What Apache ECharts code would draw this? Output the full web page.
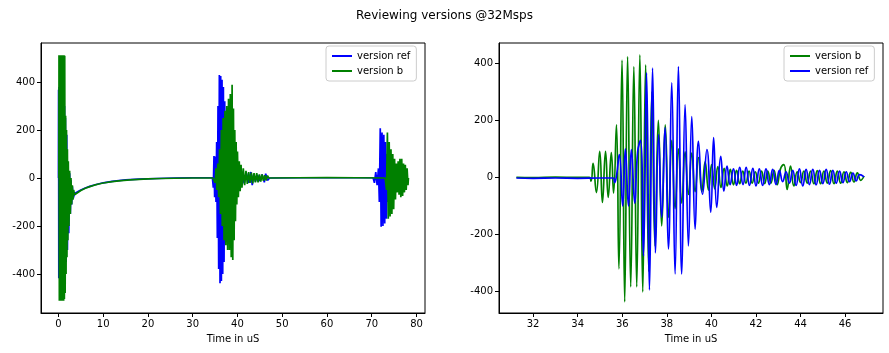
<!DOCTYPE html>
<html>
<head>
<meta charset="utf-8">
<script src="https://cdn.jsdelivr.net/npm/echarts@6/dist/echarts.min.js"></script>
<style>
  html, body { margin: 0; padding: 0; background: #fff; }
  #chart { width: 889px; height: 353px; }
</style>
</head>
<body>
<div id="chart"></div>
<script>
// full capture, time in uS -> amplitude (envelope peaks)
const refFull = [
  [0, 0], [0.03, 368], [0.08, -418], [0.15, 380], [0.25, -400], [0.35, 390], [0.45, -400], [0.55, 380],
  [0.65, -390], [0.75, 370], [0.85, -380], [0.95, 350], [1.05, -370], [1.15, 330], [1.25, -350], [1.35, 300],
  [1.45, -330], [1.55, 250], [1.7, -350], [1.85, 180], [2.0, -300], [2.15, 60], [2.3, -230], [2.5, 20],
  [2.65, -150], [2.8, -10], [2.95, -110], [3.1, -35], [3.3, -85], [3.6, -65], [4, -60], [5, -50], [6, -42],
  [7, -35], [8, -29], [10, -20], [12, -14], [15, -8], [18, -5], [22, -2], [26, 0], [30, 1], [34.4, 1],
  [34.6, -40], [34.75, 92], [34.9, -80], [35.05, 90], [35.2, -100], [35.35, 150], [35.5, -250], [35.65, 300],
  [35.8, -380], [35.95, 430], [36.1, -439], [36.25, 425], [36.4, -430], [36.55, 410], [36.7, -400], [36.85, 380],
  [37.0, -350], [37.15, 320], [37.3, -250], [37.45, 200], [37.6, -180], [37.8, 150], [38.0, -130], [38.2, 120],
  [38.4, -100], [38.6, 90], [38.8, -80], [39.0, 70], [39.3, -60], [39.6, 50], [39.9, -40], [40.2, 35],
  [40.5, -30], [41, 25], [41.5, -22], [42, 20], [42.5, -20], [43, 25], [43.3, -30], [43.6, 15], [44, -15],
  [44.5, 12], [45, -12], [45.5, 15], [46, -18], [46.3, 18], [46.7, -10], [47.2, 0], [55, 1], [70.3, 1],
  [70.6, -20], [70.9, 25], [71.2, -30], [71.5, 40], [71.7, -100], [71.9, 207], [72.1, -203], [72.3, 190],
  [72.5, -200], [72.7, 180], [72.9, -190], [73.1, 150], [73.3, -170], [73.5, 100], [73.7, -100], [74, 60],
  [74.5, -50], [75, 40], [75.5, -40], [76, 40], [76.5, -40], [77, 30], [77.5, -30], [78, 0]
];
const bFull = [
  [0.1, 0], [0.12, 512], [0.2, -512], [0.28, 512], [0.36, -512], [0.44, 512], [0.52, -512], [0.6, 512],
  [0.68, -512], [0.76, 512], [0.84, -512], [0.92, 512], [1.0, -512], [1.08, 512], [1.16, -512], [1.24, 512],
  [1.32, -505], [1.4, 510], [1.5, -480], [1.6, 260], [1.7, -400], [1.8, 200], [1.9, -330], [2.0, 120],
  [2.1, -260], [2.2, 70], [2.35, -200], [2.5, 30], [2.65, -150], [2.8, 0], [2.95, -110], [3.1, -30],
  [3.25, -90], [3.4, -50], [3.6, -70], [4, -62], [5, -52], [6, -43], [7, -36], [8, -30], [9, -25], [10, -21],
  [12, -15], [14, -11], [16, -8], [18, -6], [20, -4], [23, -2], [26, -1], [30, 0], [34.5, 0], [35.0, -20],
  [35.2, 40], [35.4, -50], [35.6, 60], [35.8, -80], [36.0, 120], [36.2, -150], [36.4, 200], [36.6, -200],
  [36.8, 250], [37.0, -260], [37.2, 280], [37.4, -280], [37.6, 300], [37.8, -300], [38.0, 330], [38.2, -300],
  [38.4, 350], [38.6, -330], [38.8, 389], [38.95, -342], [39.1, 290], [39.25, -260], [39.4, 200], [39.55, -180],
  [39.7, 150], [39.85, -110], [40.0, 110], [40.2, -80], [40.4, 70], [40.6, -55], [40.8, 55], [41.0, -40],
  [41.3, 40], [41.6, -30], [41.9, 30], [42.2, -25], [42.5, 25], [42.8, -20], [43.1, 22], [43.4, -22],
  [43.7, 20], [44.0, -18], [44.3, 20], [44.6, -18], [44.9, 15], [45.2, -15], [45.5, 15], [45.8, -12],
  [46.1, 12], [46.4, -10], [46.7, 10], [47, 0], [60, 2], [73.0, 0], [73.3, -50], [73.5, 190], [73.7, -170],
  [73.9, 150], [74.1, -160], [74.3, 120], [74.5, -150], [74.7, 100], [74.9, -130], [75.1, 80], [75.3, -90],
  [75.5, 60], [75.7, -60], [75.9, 70], [76.1, -70], [76.3, 80], [76.5, -80], [76.7, 80], [76.9, -75],
  [77.1, 60], [77.3, -60], [77.5, 55], [77.7, -50], [77.9, 40], [78.1, -30], [78.2, 0]
];

// zoom on the second burst: oscillation peaks and troughs
const bZoom = [
  [31.25, 0], [32.0, -1], [33.0, 1], [34.0, 0], [34.52, 0], [34.6, -13], [34.69, 49], [34.84, -53],
  [34.99, 92], [35.11, -88], [35.25, 92], [35.37, -70], [35.51, 87], [35.61, -55], [35.74, 185], [35.85, -321],
  [35.99, 412], [36.11, -437], [36.24, 424], [36.38, -384], [36.52, 389], [36.65, -384], [36.79, 430],
  [36.92, -402], [37.05, 395], [37.19, -330], [37.33, 300], [37.47, -240], [37.62, 200], [37.77, -170],
  [37.93, 185], [38.08, -140], [38.22, 130], [38.37, -110], [38.52, 100], [38.67, -90], [38.82, 90],
  [38.97, -60], [39.12, 85], [39.27, -50], [39.42, 70], [39.57, -50], [39.72, 55], [39.87, -45], [40.01, 45],
  [40.15, -40], [40.29, 38], [40.43, -35], [40.57, 32], [40.71, -30], [40.85, 28], [40.99, -26], [41.13, 25],
  [41.27, -22], [41.41, 22], [41.55, -20], [41.69, 22], [41.83, -20], [41.97, 20], [42.11, -20], [42.25, 22],
  [42.39, -22], [42.53, 22], [42.67, -20], [42.81, 25], [42.95, -25], [43.1, 30], [43.25, 45], [43.4, -42],
  [43.55, 40], [43.7, -30], [43.85, 20], [44.0, -18], [44.15, 22], [44.3, -20], [44.45, 22], [44.6, -22],
  [44.75, 24], [44.9, -22], [45.05, 22], [45.2, -20], [45.35, 24], [45.5, -22], [45.65, 22], [45.8, -20],
  [45.95, 20], [46.1, -18], [46.25, 18], [46.4, -16], [46.55, 16], [46.7, -10], [46.85, 5]
];
const refZoom = [
  [31.25, -2], [32.0, -3], [33.0, -2], [34.0, -3], [35.0, -2], [35.6, -2], [35.66, -18], [35.75, 10],
  [35.87, 80], [36.02, -100], [36.14, 100], [36.28, -100], [36.41, 98], [36.56, -90], [36.69, 90], [36.82, 130],
  [36.95, -275], [37.09, 367], [37.22, -395], [37.36, 384], [37.49, -265], [37.63, 150], [37.77, -140],
  [37.92, 175], [38.07, -251], [38.22, 332], [38.37, -339], [38.52, 389], [38.67, -339], [38.82, 255],
  [38.97, -240], [39.12, 214], [39.27, -182], [39.42, 127], [39.6, -59], [39.8, 98], [39.97, -122], [40.1, 140],
  [40.24, -105], [40.42, 74], [40.56, -48], [40.7, 40], [40.84, -25], [40.99, 30], [41.13, -28], [41.27, 35],
  [41.42, -25], [41.56, 35], [41.71, -28], [41.86, 32], [42.0, -30], [42.15, 30], [42.3, -28], [42.45, 30],
  [42.6, -25], [42.75, 28], [42.9, -25], [43.05, 25], [43.2, -15], [43.35, 20], [43.5, -20], [43.65, 25],
  [43.8, -28], [43.95, 30], [44.1, -30], [44.25, 28], [44.4, -25], [44.55, 28], [44.7, -26], [44.85, 25],
  [45.0, -22], [45.15, 28], [45.3, -24], [45.45, 25], [45.6, -20], [45.75, 22], [45.9, -18], [46.05, 20],
  [46.2, -15], [46.35, 15], [46.5, -12], [46.65, 10], [46.85, 2]
];

const leftXTicks = [0, 10, 20, 30, 40, 50, 60, 70, 80];
const leftYTicks = [-400, -200, 0, 200, 400];
const rightXTicks = [32, 34, 36, 38, 40, 42, 44, 46];
const rightYTicks = [-400, -200, 0, 200, 400];

const BLUE = '#0000ff';
const GREEN = '#008000';
const FONT = 'DejaVu Sans';

function makeXAxis(gridIndex, min, max, ticks) {
  return {
    type: 'value', gridIndex, min, max,
    name: 'Time in uS', nameLocation: 'middle', nameGap: 21,
    nameTextStyle: { color: '#000', fontSize: 10, fontFamily: FONT },
    splitLine: { show: false },
    axisLine: { show: true, onZero: false, lineStyle: { color: '#000', width: 1 } },
    axisTick: { show: true, length: 4, customValues: ticks, lineStyle: { color: '#000', width: 1 } },
    axisLabel: { customValues: ticks, color: '#000', fontSize: 10, fontFamily: FONT, margin: 6 }
  };
}
function makeYAxis(gridIndex, min, max, ticks) {
  return {
    type: 'value', gridIndex, min, max,
    splitLine: { show: false },
    axisLine: { show: true, onZero: false, lineStyle: { color: '#000', width: 1 } },
    axisTick: { show: true, length: 4, customValues: ticks, lineStyle: { color: '#000', width: 1 } },
    axisLabel: { customValues: ticks, color: '#000', fontSize: 10, fontFamily: FONT, margin: 6 }
  };
}
function makeLine(name, color, data, idx, smooth) {
  return {
    name, type: 'line', xAxisIndex: idx, yAxisIndex: idx, data,
    showSymbol: false, smooth: smooth, lineStyle: { color, width: 1.7 }, itemStyle: { color },
    emphasis: { disabled: true }
  };
}
function makeLegend(left, names) {
  return {
    data: names, left, top: 46, orient: 'vertical', itemGap: 5, padding: [5, 6, 5, 6],
    backgroundColor: '#fff', borderColor: '#ccc', borderWidth: 1, borderRadius: 3,
    icon: 'rect', itemWidth: 20, itemHeight: 2,
    textStyle: { color: '#000', fontSize: 10, fontFamily: FONT }
  };
}

const chart = echarts.init(document.getElementById('chart'));
chart.setOption({
  animation: false,
  backgroundColor: '#fff',
  title: {
    text: 'Reviewing versions @32Msps', left: 'center', top: 5,
    textStyle: { color: '#000', fontSize: 12, fontWeight: 'normal', fontFamily: FONT }
  },
  legend: [makeLegend(326, ['version ref', 'version b']), makeLegend(784, ['version b', 'version ref'])],
  grid: [
    { left: 41, top: 43, width: 384, height: 270, show: true, borderColor: '#000', borderWidth: 1, backgroundColor: '#fff' },
    { left: 499, top: 43, width: 384, height: 270, show: true, borderColor: '#000', borderWidth: 1, backgroundColor: '#fff' }
  ],
  xAxis: [makeXAxis(0, -3.9, 81.9, leftXTicks), makeXAxis(1, 30.47, 47.7, rightXTicks)],
  yAxis: [makeYAxis(0, -563, 563, leftYTicks), makeYAxis(1, -476, 472, rightYTicks)],
  series: [
    makeLine('version ref', BLUE, refFull, 0, false),
    makeLine('version b', GREEN, bFull, 0, false),
    makeLine('version b', GREEN, bZoom, 1, 0.5),
    makeLine('version ref', BLUE, refZoom, 1, 0.5)
  ]
});
</script>
</body>
</html>
